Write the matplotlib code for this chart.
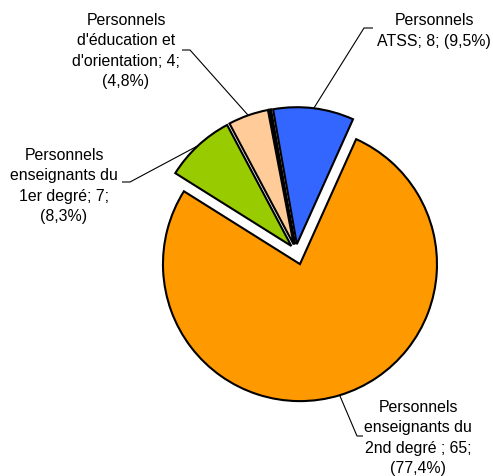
import numpy as np
import matplotlib
matplotlib.use("Agg")
import matplotlib.pyplot as plt

# ── Data ─────────────────────────────────────────────────────────────────────

CATEGORIES = ["Personnels ATSS", "Personnels enseignants du 2nd degré",
              "Personnels enseignants du 1er degré",
              "Personnels d'éducation et d'orientation", "Autres"]
VALUES = [8, 65, 7, 4, 0.2]
LABELS = [
    "Personnels\nATSS; 8; (9,5%)",
    "Personnels\nenseignants du\n2nd degré ; 65;\n(77,4%)",
    "Personnels\nenseignants du\n1er degré; 7;\n(8,3%)",
    "Personnels\nd'éducation et\nd'orientation; 4;\n(4,8%)",
    None,
]
COLORS = ["#3366FF", "#FF9900", "#99CC00", "#FFCC99", "#000000"]
EXPLODE = [0.05, 0.10, 0.05, 0.05, 0.05]

# ── Layout (pixel coords, y down) ────────────────────────────────────────────

W, H = 493, 477
CENTER = (296, 252)
RADIUS = 137
# elbow point, end of horizontal tick, text centre
LEADERS = [
    ((364, 29), (373, 29), (434, 31)),
    ((357, 437), (363, 437), (418, 438)),
    ((130, 183), (122, 183), (64, 186)),
    ((190, 51), (182, 51), (126, 51)),
    None,
]


def px(p):
    return (p[0], H - p[1])


fig = plt.figure(figsize=(W / 100, H / 100), dpi=100)
ax = fig.add_axes([0, 0, 1, 1])

wedges, _ = ax.pie(VALUES, colors=COLORS, startangle=100, counterclock=False,
                   center=px(CENTER), radius=RADIUS,
                   explode=[e * RADIUS for e in EXPLODE],
                   wedgeprops=dict(edgecolor="black", linewidth=1.5))

ax.set_xlim(0, W)
ax.set_ylim(0, H)
ax.set_aspect("equal")
ax.axis("off")

for w, lab, lead in zip(wedges, LABELS, LEADERS):
    if lab is None:
        continue
    tm = np.deg2rad((w.theta1 + w.theta2) / 2)
    cx, cy = w.center
    start = (cx + w.r * np.cos(tm), cy + w.r * np.sin(tm))
    elbow, tick, txt = px(lead[0]), px(lead[1]), px(lead[2])
    ax.plot([start[0], elbow[0], tick[0]], [start[1], elbow[1], tick[1]],
            color="black", linewidth=0.8, solid_capstyle="butt")
    ax.text(txt[0], txt[1], lab, ha="center", va="center", fontsize=11.4,
            family="Liberation Sans", linespacing=1.42, color="black")

fig.savefig("out.png", dpi=100)
